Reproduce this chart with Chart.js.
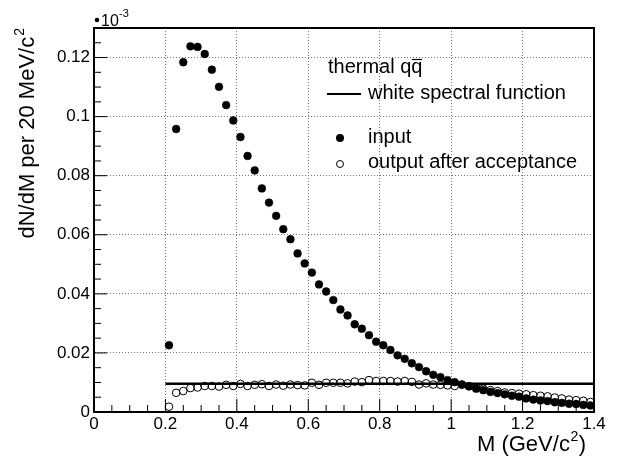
<!DOCTYPE html>
<html>
<head>
<meta charset="utf-8">
<script src="https://cdn.jsdelivr.net/npm/chart.js@4.4.0/dist/chart.umd.min.js"></script>
<style>
  html, body { margin: 0; padding: 0; background: #fff; }
  #wrap { width: 631px; height: 457px; }
</style>
</head>
<body>
<div id="wrap"><canvas id="massChart" width="631" height="457"></canvas></div>
<script>
// bin centres in GeV/c^2 (20 MeV bins)
const massBins = [
    0.21, 0.23, 0.25, 0.27, 0.29, 0.31, 0.33, 0.35, 0.37, 0.39,
    0.41, 0.43, 0.45, 0.47, 0.49, 0.51, 0.53, 0.55, 0.57, 0.59,
    0.61, 0.63, 0.65, 0.67, 0.69, 0.71, 0.73, 0.75, 0.77, 0.79,
    0.81, 0.83, 0.85, 0.87, 0.89, 0.91, 0.93, 0.95, 0.97, 0.99,
    1.01, 1.03, 1.05, 1.07, 1.09, 1.11, 1.13, 1.15, 1.17, 1.19,
    1.21, 1.23, 1.25, 1.27, 1.29, 1.31, 1.33, 1.35, 1.37, 1.39
];
// dN/dM in units of 10^-3
const inputYield = [
    0.0226, 0.0958, 0.1184, 0.1238, 0.1236, 0.1212, 0.1159, 0.1101, 0.1039, 0.0987,
    0.0931, 0.0867, 0.0818, 0.0757, 0.0709, 0.0664, 0.0619, 0.0585, 0.0537, 0.0503,
    0.0472, 0.0432, 0.0408, 0.0379, 0.0347, 0.0327, 0.0297, 0.0282, 0.0260, 0.0238,
    0.0226, 0.0210, 0.0192, 0.0180, 0.0165, 0.0152, 0.0138, 0.0126, 0.0118, 0.0108,
    0.0101, 0.0093, 0.0087, 0.0079, 0.0074, 0.0068, 0.0064, 0.0060, 0.0055, 0.0052,
    0.0046, 0.0042, 0.0039, 0.0037, 0.0033, 0.0031, 0.0028, 0.0027, 0.0024, 0.0022
];
const outputYield = [
    0.0018, 0.0065, 0.0071, 0.0081, 0.0083, 0.0088, 0.0088, 0.0086, 0.0092, 0.0088,
    0.0095, 0.0088, 0.0092, 0.0094, 0.0088, 0.0093, 0.0089, 0.0093, 0.0091, 0.0090,
    0.0099, 0.0092, 0.0099, 0.0099, 0.0099, 0.0097, 0.0103, 0.0101, 0.0108, 0.0105,
    0.0105, 0.0105, 0.0103, 0.0105, 0.0102, 0.0093, 0.0097, 0.0093, 0.0092, 0.0090,
    0.0088, 0.0093, 0.0087, 0.0083, 0.0079, 0.0074, 0.0071, 0.0066, 0.0064, 0.0062,
    0.0060, 0.0057, 0.0055, 0.0053, 0.0049, 0.0046, 0.0042, 0.0040, 0.0038, 0.0034
];
// white spectral function (flat)
const spectralX = [0.2, 1.4];
const spectralY = [0.0096, 0.0096];

const xTickVals = [0, 0.2, 0.4, 0.6, 0.8, 1, 1.2, 1.4];
const xTickLabels = ['0', '0.2', '0.4', '0.6', '0.8', '1', '1.2', '1.4'];
const yTickVals = [0, 0.02, 0.04, 0.06, 0.08, 0.1, 0.12];
const yTickLabels = ['0', '0.02', '0.04', '0.06', '0.08', '0.1', '0.12'];

Chart.defaults.font.family = '"Liberation Sans", Arial, sans-serif';
Chart.defaults.color = '#000';

const FONT = '"Liberation Sans"';

// ROOT-like decorations: inward ticks, frame, titles, exponent, legend
const rootFrame = {
    id: 'rootFrame',
    afterDraw(chart) {
        const { ctx, chartArea: a, scales: { x, y } } = chart;
        ctx.save();
        ctx.strokeStyle = '#000';
        ctx.lineWidth = 1;

        // x ticks (major 0.2, minor 0.05)
        for (let i = 0; i <= 28; i++) {
            const px = x.getPixelForValue(i * 0.05);
            const len = (i % 4 === 0) ? 13 : 7;
            ctx.beginPath();
            ctx.moveTo(px, a.bottom);
            ctx.lineTo(px, a.bottom - len);
            ctx.stroke();
        }
        // y ticks (major 0.02, minor 0.005)
        for (let i = 0; i <= 26; i++) {
            const py = y.getPixelForValue(i * 0.005);
            const len = (i % 4 === 0) ? 13 : 7;
            ctx.beginPath();
            ctx.moveTo(a.left, py);
            ctx.lineTo(a.left + len, py);
            ctx.stroke();
        }

        // frame
        ctx.lineWidth = 2;
        ctx.strokeRect(a.left, a.top, a.right - a.left, a.bottom - a.top);

        ctx.fillStyle = '#000';
        ctx.textBaseline = 'alphabetic';
        ctx.textAlign = 'left';

        // x title: M (GeV/c^2), right aligned
        ctx.font = '22px ' + FONT;
        const xMain = 'M (GeV/c', xEnd = ')';
        const wMain = ctx.measureText(xMain).width;
        const wEnd = ctx.measureText(xEnd).width;
        ctx.font = '14px ' + FONT;
        const wSup = ctx.measureText('2').width;
        let xs = a.right - 9 - wEnd - wSup - wMain;
        ctx.font = '22px ' + FONT;
        ctx.fillText(xMain, xs, 451);
        ctx.font = '14px ' + FONT;
        ctx.fillText('2', xs + wMain + 0.5, 441);
        ctx.font = '22px ' + FONT;
        ctx.fillText(xEnd, xs + wMain + wSup + 1, 451);

        // y title, rotated, ending at the top of the frame
        ctx.save();
        ctx.translate(34, a.top);
        ctx.rotate(-Math.PI / 2);
        ctx.font = '22px ' + FONT;
        const yMain = 'dN/dM per 20 MeV/c';
        const wy = ctx.measureText(yMain).width;
        ctx.font = '14px ' + FONT;
        const wy2 = ctx.measureText('2').width;
        ctx.font = '22px ' + FONT;
        ctx.fillText(yMain, -(wy + wy2 + 1), 0);
        ctx.font = '14px ' + FONT;
        ctx.fillText('2', -wy2, -10);
        ctx.restore();

        // exponent label
        ctx.beginPath();
        ctx.arc(97, 20, 2.3, 0, Math.PI * 2);
        ctx.fill();
        ctx.font = '16px ' + FONT;
        ctx.fillText('10', 101, 26);
        ctx.font = '11px ' + FONT;
        ctx.fillText('-3', 119, 17);

        // legend
        ctx.font = '20px ' + FONT;
        ctx.fillText('thermal qq', 328, 73);
        const full = ctx.measureText('thermal qq').width;
        const qw = ctx.measureText('q').width;
        ctx.lineWidth = 1.2;
        ctx.beginPath();
        ctx.moveTo(328 + full - qw + 0.5, 59.5);
        ctx.lineTo(328 + full - 0.5, 59.5);
        ctx.stroke();

        ctx.lineWidth = 2;
        ctx.beginPath();
        ctx.moveTo(327, 94);
        ctx.lineTo(361, 94);
        ctx.stroke();
        ctx.fillText('white spectral function', 368, 99);

        ctx.beginPath();
        ctx.arc(340, 138, 4, 0, Math.PI * 2);
        ctx.fill();
        ctx.fillText('input', 368, 143);

        ctx.lineWidth = 1;
        ctx.beginPath();
        ctx.arc(340, 164, 3.5, 0, Math.PI * 2);
        ctx.stroke();
        ctx.fillText('output after acceptance', 368, 168);

        ctx.restore();
    }
};

const ctx = document.getElementById('massChart').getContext('2d');
const massChart = new Chart(ctx, {
    type: 'scatter',
    data: {
        datasets: [
            {
                label: 'white spectral function',
                data: spectralX.map((m, i) => ({ x: m, y: spectralY[i] })),
                showLine: true,
                borderColor: '#000',
                borderWidth: 2.5,
                pointRadius: 0,
                order: 0
            },
            {
                label: 'output after acceptance',
                data: massBins.map((m, i) => ({ x: m, y: outputYield[i] })),
                backgroundColor: 'rgba(0,0,0,0)',
                borderColor: '#000',
                borderWidth: 1,
                pointRadius: 3.8,
                order: 1
            },
            {
                label: 'input',
                data: massBins.map((m, i) => ({ x: m, y: inputYield[i] })),
                backgroundColor: '#000',
                borderColor: '#000',
                borderWidth: 0.5,
                pointRadius: 3.9,
                order: 2
            }
        ]
    },
    options: {
        responsive: false,
        animation: false,
        events: [],
        layout: { padding: { top: 28, right: 37, bottom: 0, left: 0 } },
        plugins: {
            legend: { display: false },
            tooltip: { enabled: false }
        },
        scales: {
            x: {
                type: 'linear',
                min: 0,
                max: 1.4,
                afterBuildTicks: (scale) => { scale.ticks = xTickVals.map(v => ({ value: v })); },
                afterFit: (scale) => { scale.height = 45; },
                ticks: {
                    autoSkip: false,
                    maxRotation: 0,
                    padding: 2,
                    font: { size: 17 },
                    callback: (v, i) => xTickLabels[i]
                },
                grid: { color: '#777', lineWidth: 1, drawTicks: false },
                border: { display: true, color: '#000', width: 2, dash: [1, 2] }
            },
            y: {
                type: 'linear',
                min: 0,
                max: 0.13,
                afterBuildTicks: (scale) => { scale.ticks = yTickVals.map(v => ({ value: v })); },
                afterFit: (scale) => { scale.width = 94; },
                ticks: {
                    autoSkip: false,
                    padding: 4,
                    font: { size: 17 },
                    callback: (v, i) => yTickLabels[i]
                },
                grid: { color: '#777', lineWidth: 1, drawTicks: false },
                border: { display: true, color: '#000', width: 2, dash: [1, 2] }
            }
        }
    },
    plugins: [rootFrame]
});
</script>
</body>
</html>
